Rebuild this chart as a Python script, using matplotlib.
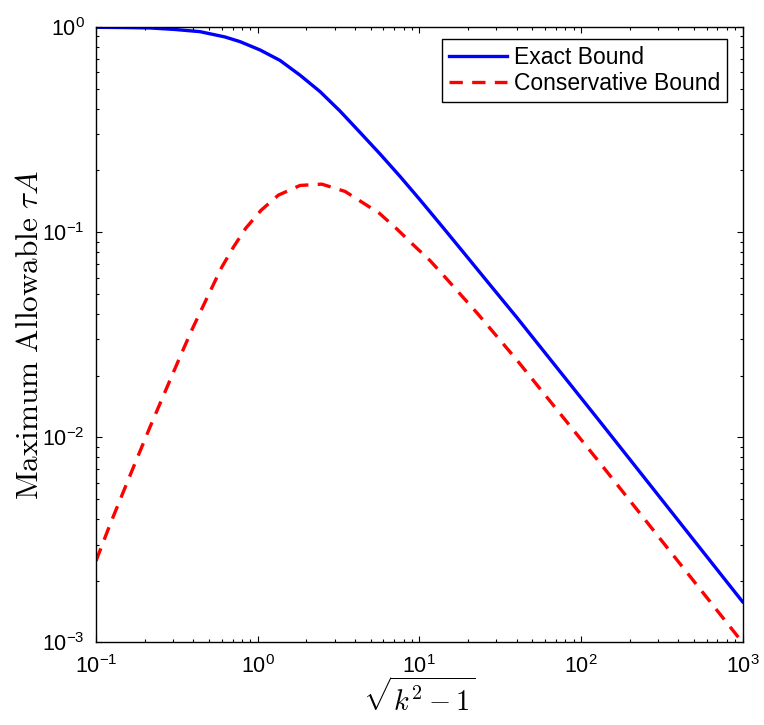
import matplotlib
matplotlib.use("Agg")
import matplotlib.pyplot as plt
from matplotlib.ticker import LogLocator, NullFormatter

plt.rcParams['font.family'] = ['Liberation Sans', 'DejaVu Sans']
plt.rcParams['mathtext.fontset'] = 'custom'
plt.rcParams['mathtext.rm'] = 'Liberation Sans'
plt.rcParams['mathtext.it'] = 'Liberation Sans:italic'

# values (log-log axes)
exact_k = [0.1, 0.151, 0.216, 0.308, 0.44, 0.628, 0.778, 1.035, 1.376, 1.83,
           2.433, 3.235, 4.301, 5.719, 7.606, 10.12, 13.45, 18.66, 27.42,
           40.11, 131.5, 1000]
exact_bound = [0.9966, 0.9933, 0.9888, 0.9723, 0.9486, 0.8939, 0.8481, 0.7725,
               0.6868, 0.582, 0.484, 0.389, 0.3061, 0.2404, 0.1868, 0.1435,
               0.1096, 0.0801, 0.0553, 0.0384, 0.0119, 0.00158]

cons_k = [0.1, 0.1221, 0.1623, 0.2159, 0.287, 0.3391, 0.3911, 0.4509, 0.52,
          0.5995, 0.7074, 0.8441, 1.0496, 1.343, 1.83, 2.493, 3.474, 4.301,
          5.663, 7.258, 9.194, 11.67, 14.65, 18.32, 22.69, 40.11, 131.5, 1000]
conservative_bound = [0.0025, 0.00376, 0.00652, 0.01124, 0.0190, 0.0258,
                      0.0333, 0.04222, 0.05346, 0.06745, 0.08441, 0.1045,
                      0.1278, 0.1515, 0.1689, 0.1714, 0.1579, 0.1419, 0.1236,
                      0.1037, 0.0866, 0.0726, 0.0596, 0.0489, 0.0405, 0.02383,
                      0.00748, 0.001]

fig = plt.figure(figsize=(7.64, 7.25), dpi=100)
ax = fig.add_axes([0.1257, 0.1138, 0.8462, 0.849])

ax.plot(exact_k, exact_bound, color='#0000ff', lw=2.4, label='Exact Bound')
ax.plot(cons_k, conservative_bound, color='#ff0000', lw=2.4, dashes=(4, 2.8),
        label='Conservative Bound')

ax.set_xscale('log')
ax.set_yscale('log')
ax.set_xlim(0.1, 1000)
ax.set_ylim(1e-3, 1)

for axis in (ax.xaxis, ax.yaxis):
    axis.set_major_locator(LogLocator(base=10, numticks=10))
    axis.set_minor_locator(LogLocator(base=10, subs=range(2, 10), numticks=10))
    axis.set_minor_formatter(NullFormatter())

ax.tick_params(which='both', direction='in', top=True, right=True, width=0.8)
ax.tick_params(which='major', length=4.5, labelsize=15.5)
ax.tick_params(axis='y', which='major', pad=8)
ax.tick_params(axis='x', which='major', pad=9)
ax.tick_params(which='minor', length=2.5)
for s in ax.spines.values():
    s.set_linewidth(1.0)

ax.set_xlabel(r'$\sqrt{k^2-1}$', fontsize=20.5, math_fontfamily='cm', labelpad=0)
ax.set_ylabel(r'$\mathrm{Maximum\ Allowable}\ \tau A$', fontsize=22.5,
              math_fontfamily='cm', labelpad=-2)

leg = ax.legend(loc='upper right', fontsize=16.5, fancybox=False,
                edgecolor='black', framealpha=1,
                bbox_to_anchor=(727.3 / 764, 1 - 39 / 725),
                bbox_transform=fig.transFigure, borderaxespad=0,
                handlelength=2.55, handletextpad=0.3, labelspacing=0.12,
                borderpad=0.3)
leg.get_frame().set_linewidth(1.0)

fig.savefig('out.png', dpi=100)
